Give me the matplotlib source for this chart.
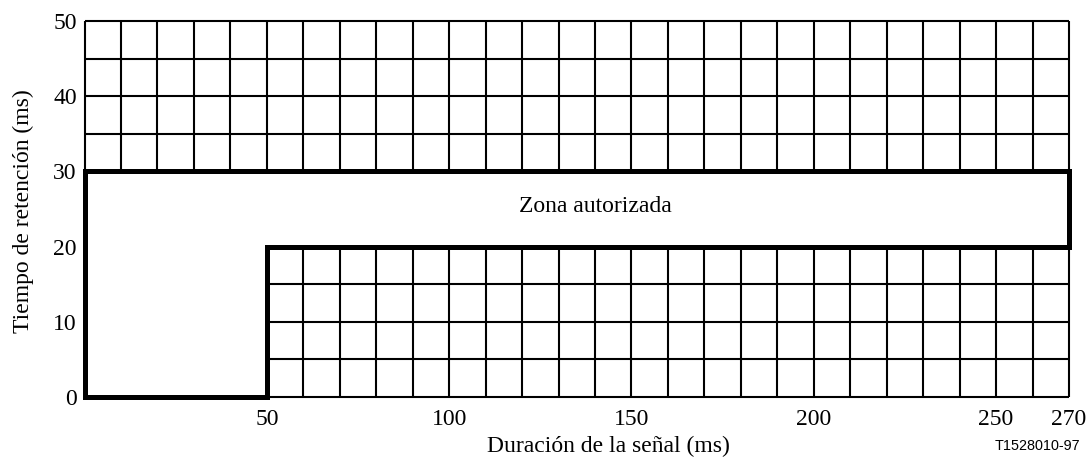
import numpy as np
import matplotlib
matplotlib.use("Agg")
import matplotlib.pyplot as plt

plt.rcParams['font.family'] = ['Liberation Serif', 'DejaVu Serif']

# authorised-zone outline (ms)
zone_x = [0, 0, 270, 270, 50, 50, 0]
zone_y = [0, 30, 30, 20, 20, 0, 0]

# grid bands outside the zone: (x0, x1, y0, y1)
upper_band = (0, 270, 30, 50)
lower_band = (50, 270, 0, 20)
grid_dx = 10
grid_dy = 5

xticks = [50, 100, 150, 200, 250, 270]
yticks = [0, 10, 20, 30, 40, 50]

W, H = 1088, 459
left, right, top, bottom = 84.5, 1069, 21, 397

fig = plt.figure(figsize=(W / 100, H / 100), dpi=100)
ax = fig.add_axes([left / W, 1 - bottom / H, (right - left) / W, (bottom - top) / H])

for x0, x1, y0, y1 in (upper_band, lower_band):
    xs = np.arange(x0, x1 + 1, grid_dx)
    ys = np.arange(y0, y1 + 1, grid_dy)
    ax.vlines(xs, y0, y1, colors='black', linewidth=1.5, clip_on=False)
    ax.hlines(ys, x0, x1, colors='black', linewidth=1.5, clip_on=False)

ax.plot(zone_x, zone_y, color='black', linewidth=3.6, clip_on=False,
        solid_joinstyle='miter', solid_capstyle='projecting')

ax.text(140, 25.3, 'Zona autorizada', ha='center', va='center', fontsize=17)

ax.set_xlim(0, 270)
ax.set_ylim(0, 50)
for s in ax.spines.values():
    s.set_visible(False)
ax.set_xticks(xticks)
ax.set_yticks(yticks)
ax.tick_params(length=0, labelsize=17)
ax.tick_params(axis='x', pad=8.5)
ax.tick_params(axis='y', pad=5.5)

fig.text(608 / W, 1 - 446 / H, 'Duración de la señal (ms)', ha='center', va='center', fontsize=17)
fig.text(23 / W, 1 - 211 / H, 'Tiempo de retención (ms)', ha='center', va='center',
         rotation=90, fontsize=17)
fig.text(1080 / W, 1 - 446 / H, 'T1528010-97', ha='right', va='center', fontsize=10.4,
         family=['Liberation Sans', 'DejaVu Sans'])

fig.savefig('out.png', dpi=100)
